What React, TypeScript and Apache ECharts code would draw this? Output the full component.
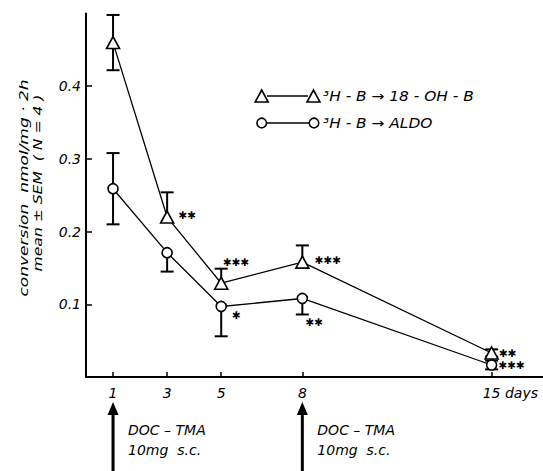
import React, { useEffect, useRef } from "react";
import * as echarts from "echarts";

// ---- data ----
const days = [1, 3, 5, 8, 15];
const xTickLabels = ["1", "3", "5", "8", "15"];
const yTicks = [0.1, 0.2, 0.3, 0.4];

// 3H-B -> 18-OH-B (triangles)
const hydroxyMean = [0.46, 0.22, 0.129, 0.158, 0.033];
const hydroxySem = [0.038, 0.034, 0.02, 0.023, 0.005];
const hydroxyBarUp = [1, 1, 1, 1, 1];
const hydroxyBarDown = [1, 0, 0, 0, 1];
const hydroxyStars = ["", "**", "***", "***", "**"];

// 3H-B -> ALDO (circles)
const aldoMean = [0.259, 0.171, 0.097, 0.108, 0.0165];
const aldoSem = [0.049, 0.026, 0.041, 0.022, 0.006];
const aldoBarUp = [1, 0, 0, 0, 1];
const aldoBarDown = [1, 1, 1, 1, 1];
const aldoStars = ["", "", "*", "**", "***"];

// DOC-TMA injections
const doseDays = [1, 8];
const doseText = ["DOC – TMA", "10mg  s.c."];

const legendTexts = ["³H - B → 18 - OH - B", "³H - B → ALDO"];
const yTitleLines = ["conversion  nmol/mg · 2h", "mean ± SEM  ( N = 4 )"];

const FONT = "DejaVu Sans";
const INK = "#000";

export default function App() {
  const ref = useRef<HTMLDivElement>(null);

  useEffect(() => {
    if (!ref.current) return;
    const chart = echarts.init(ref.current, null, { renderer: "svg" });

    const starText = (s: string) => s.replace(/\*/g, "✱");

    const hydroxyStarPlace: any[] = [
      null,
      { position: "right", offset: [-1, -2] },
      { position: "top", offset: [15, -4] },
      { position: "right", offset: [0, -2] },
      { position: "right", offset: [-5, 0] },
    ];
    const aldoStarPlace: any[] = [
      null,
      null,
      { position: "right", offset: [0, 9] },
      { position: "bottom", offset: [12, 7] },
      { position: "right", offset: [-4, 0] },
    ];

    const pointData = (means: number[], stars: string[], place: any[]) =>
      days.map((d, i) => {
        const item: any = { value: [d, means[i]] };
        if (stars[i]) {
          item.label = {
            show: true,
            formatter: starText(stars[i]),
            color: INK,
            fontFamily: FONT,
            fontSize: 10.5,
            ...place[i],
          };
        }
        return item;
      });

    const errData = (means: number[], sems: number[], up: number[], dn: number[]) =>
      days.map((d, i) => [d, means[i], sems[i], up[i], dn[i]]);

    const errRender = (params: any, api: any) => {
      const x = api.value(0);
      const y = api.value(1);
      const s = api.value(2);
      const c = api.coord([x, y]);
      const cap = 6.5;
      const st = { stroke: INK, lineWidth: 2 };
      const children: any[] = [];
      const addBar = (v: number) => {
        const t = api.coord([x, v]);
        children.push({ type: "line", shape: { x1: c[0], y1: c[1], x2: t[0], y2: t[1] }, style: st });
        children.push({ type: "line", shape: { x1: t[0] - cap, y1: t[1], x2: t[0] + cap, y2: t[1] }, style: st });
      };
      if (api.value(3)) addBar(y + s);
      if (api.value(4)) addBar(y - s);
      return { type: "group", children };
    };

    const doseRender = (params: any, api: any) => {
      const p = api.coord([api.value(0), 0]);
      const x = p[0];
      const y0 = p[1];
      return {
        type: "group",
        children: [
          {
            type: "polygon",
            shape: { points: [[x, y0 + 25], [x - 5.5, y0 + 38], [x + 5.5, y0 + 38]] },
            style: { fill: INK },
          },
          { type: "rect", shape: { x: x - 1.5, y: y0 + 36, width: 3, height: 120 }, style: { fill: INK } },
          {
            type: "text",
            x: x + 15,
            y: y0 + 53,
            style: { text: doseText[0], font: `italic 14px "${FONT}"`, fill: INK, textVerticalAlign: "middle" },
          },
          {
            type: "text",
            x: x + 15,
            y: y0 + 73,
            style: { text: doseText[1], font: `italic 14px "${FONT}"`, fill: INK, textVerticalAlign: "middle" },
          },
        ],
      };
    };

    const tri = (cx: number, cy: number) => ({
      type: "polygon",
      shape: { points: [[cx - 6.5, cy + 6], [cx + 6.5, cy + 6], [cx, cy - 6]] },
      style: { fill: "#fff", stroke: INK, lineWidth: 1.6 },
    });
    const circ = (cx: number, cy: number) => ({
      type: "circle",
      shape: { cx, cy, r: 4.8 },
      style: { fill: "#fff", stroke: INK, lineWidth: 1.6 },
    });

    const option: any = {
      animation: false,
      backgroundColor: "#fff",
      grid: { left: 86, right: 0, top: 13.5, bottom: 94, containLabel: false, outerBoundsMode: "none" },
      xAxis: {
        type: "value",
        min: 0,
        max: 16.9,
        splitLine: { show: false },
        axisLine: { show: true, lineStyle: { color: INK, width: 2 } },
        axisTick: { show: true, inside: true, length: 5, lineStyle: { color: INK, width: 1.5 }, customValues: days },
        axisLabel: {
          show: true,
          customValues: days,
          margin: 9,
          color: INK,
          fontFamily: FONT,
          fontStyle: "italic",
          fontSize: 14,
          formatter: (v: number) => {
            const i = days.indexOf(v);
            if (i < 0) return "";
            if (v === 15) return `{h|days }${xTickLabels[i]} days`;
            return xTickLabels[i];
          },
          rich: { h: { color: "rgba(0,0,0,0)", fontFamily: FONT, fontStyle: "italic", fontSize: 14 } },
        },
      },
      yAxis: {
        type: "value",
        min: 0,
        max: 0.5,
        interval: 0.1,
        splitLine: { show: false },
        axisLine: { show: true, lineStyle: { color: INK, width: 2 } },
        axisTick: { show: true, inside: true, length: 6, lineStyle: { color: INK, width: 1.5 }, customValues: yTicks },
        axisLabel: {
          show: true,
          customValues: yTicks,
          margin: 5,
          color: INK,
          fontFamily: FONT,
          fontStyle: "italic",
          fontSize: 14,
          formatter: (v: number) => v.toFixed(1),
        },
      },
      series: [
        {
          type: "custom",
          name: "err18",
          renderItem: errRender,
          data: errData(hydroxyMean, hydroxySem, hydroxyBarUp, hydroxyBarDown),
          encode: { x: 0, y: 1 },
          z: 2,
        },
        {
          type: "custom",
          name: "errAldo",
          renderItem: errRender,
          data: errData(aldoMean, aldoSem, aldoBarUp, aldoBarDown),
          encode: { x: 0, y: 1 },
          z: 2,
        },
        {
          type: "line",
          name: "3H-B → 18-OH-B",
          data: pointData(hydroxyMean, hydroxyStars, hydroxyStarPlace),
          symbol: "triangle",
          symbolSize: [13, 12],
          showAllSymbol: true,
          lineStyle: { color: INK, width: 1.3 },
          itemStyle: { color: "#fff", borderColor: INK, borderWidth: 1.6 },
          emphasis: { disabled: true },
          z: 3,
        },
        {
          type: "line",
          name: "3H-B → ALDO",
          data: pointData(aldoMean, aldoStars, aldoStarPlace),
          symbol: "circle",
          symbolSize: 10,
          showAllSymbol: true,
          lineStyle: { color: INK, width: 1.3 },
          itemStyle: { color: "#fff", borderColor: INK, borderWidth: 1.6 },
          emphasis: { disabled: true },
          z: 3,
        },
        {
          type: "custom",
          name: "dose",
          renderItem: doseRender,
          data: doseDays.map((d) => [d, 0]),
          encode: { x: 0, y: 1 },
          clip: false,
          silent: true,
        },
      ],
      graphic: [
        // y-axis title
        {
          type: "text",
          x: 24,
          y: 188,
          rotation: Math.PI / 2,
          scaleX: 1.42,
          style: {
            text: yTitleLines[0],
            font: `italic 12px "${FONT}"`,
            fill: INK,
            textAlign: "center",
            textVerticalAlign: "middle",
          },
        },
        {
          type: "text",
          x: 38,
          y: 183,
          rotation: Math.PI / 2,
          scaleX: 1.3,
          style: {
            text: yTitleLines[1],
            font: `italic 12px "${FONT}"`,
            fill: INK,
            textAlign: "center",
            textVerticalAlign: "middle",
          },
        },
        // legend row 1
        { type: "line", shape: { x1: 267, y1: 96, x2: 308, y2: 96 }, style: { stroke: INK, lineWidth: 1.3 } },
        tri(261.7, 96),
        tri(313.5, 96),
        {
          type: "text",
          x: 323,
          y: 96,
          scaleX: 1.1,
          style: { text: legendTexts[0], font: `italic 14px "${FONT}"`, fill: INK, textVerticalAlign: "middle" },
        },
        // legend row 2
        { type: "line", shape: { x1: 266, y1: 123, x2: 309, y2: 123 }, style: { stroke: INK, lineWidth: 1.3 } },
        circ(261.7, 123),
        circ(314, 123),
        {
          type: "text",
          x: 323,
          y: 123,
          scaleX: 1.1,
          style: { text: legendTexts[1], font: `italic 14px "${FONT}"`, fill: INK, textVerticalAlign: "middle" },
        },
      ],
    };

    chart.setOption(option);
    return () => chart.dispose();
  }, []);

  return (
    <div
      ref={ref}
      style={{ position: "absolute", left: 0, top: 0, width: 543, height: 471, background: "#fff" }}
    />
  );
}
